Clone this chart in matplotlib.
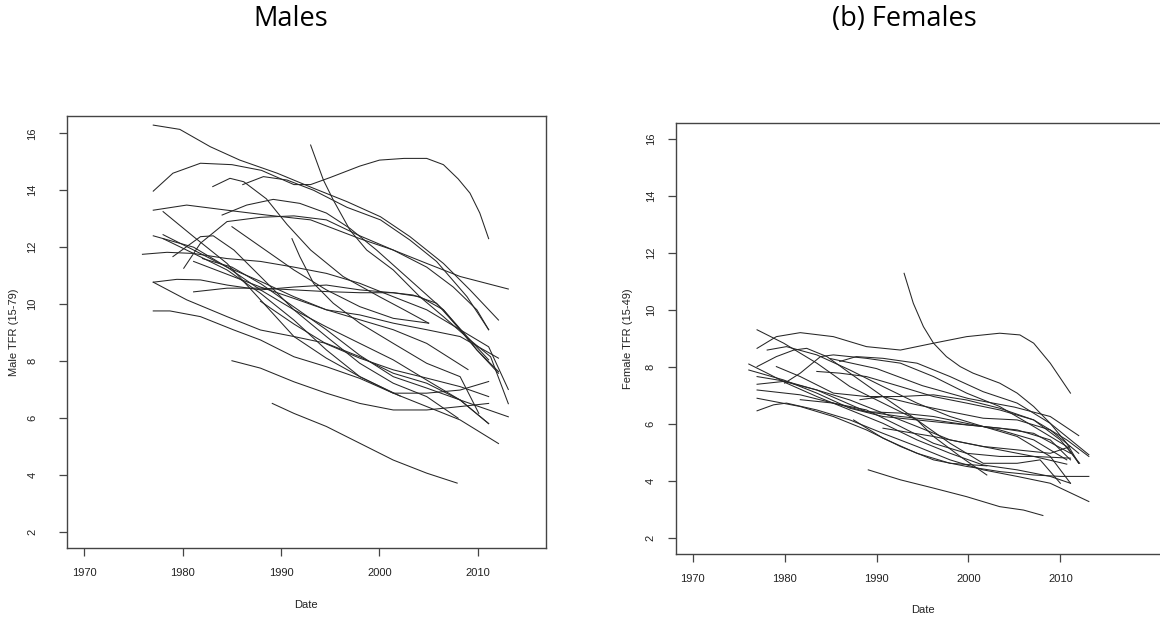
import matplotlib.pyplot as plt

# estimated TFR trajectories, one (years, values) pair per country
male_series = [
    ([1977, 1979.7, 1982.8, 1985.8, 1989.6, 1993.3, 1996.7, 2000.1, 2003.1, 2006.5, 2009.2, 2012.1],
     [16.29, 16.14, 15.53, 15.06, 14.6, 14.07, 13.6, 13.07, 12.37, 11.43, 10.5, 9.44]),
    ([1977, 1979, 1981.8, 1985, 1988, 1991.3, 1993, 1995, 1998, 2000, 2002.5, 2004.8, 2006.5, 2008, 2009.2, 2010.2, 2011.1],
     [13.97, 14.6, 14.95, 14.9, 14.7, 14.2, 14.2, 14.45, 14.85, 15.06, 15.12, 15.12, 14.9, 14.4, 13.9, 13.2, 12.3]),
    ([1983.05, 1984.8, 1986.2, 1988.5, 1990.6, 1993, 1996.3, 2000, 2002.5, 2005],
     [14.13, 14.42, 14.3, 13.7, 12.8, 11.9, 10.97, 10.26, 9.8, 9.33]),
    ([1986.1, 1988.2, 1990.6, 1993.3, 1996.7, 2000.1, 2003.1, 2005.8, 2008.9, 2011.1],
     [14.2, 14.48, 14.36, 14.0, 13.4, 12.96, 12.25, 11.5, 10.26, 9.1]),
    ([1993, 1994.3, 1995.3, 1997, 1998.7, 2001.4, 2004.1, 2006.5, 2009.2, 2011.3, 2013.1],
     [15.59, 14.36, 13.66, 12.6, 11.9, 11.2, 10.26, 9.56, 8.74, 8.15, 6.5]),
    ([1977, 1980.4, 1984.5, 1988.5, 1993, 1998, 2001.4, 2004.8, 2008.2, 2013.1],
     [13.3, 13.48, 13.3, 13.13, 12.96, 12.3, 11.9, 11.43, 10.97, 10.53]),
    ([1980.1, 1981.8, 1984.5, 1987.9, 1991.3, 1994.6, 1998, 2001.4, 2004.8, 2007.5, 2009.9, 2011.1],
     [11.26, 12.14, 12.9, 13.05, 13.1, 12.96, 12.4, 11.9, 11.3, 10.6, 9.8, 9.1]),
    ([1984, 1986.5, 1989.2, 1991.9, 1994.6, 1997, 1999.7, 2003.1, 2006.5, 2009.9, 2012.1],
     [13.13, 13.48, 13.68, 13.54, 13.2, 12.66, 11.9, 10.85, 9.8, 8.39, 7.63]),
    ([1978, 1981.1, 1984.5, 1987.9, 1991.3, 1994.6, 1998, 2002.1],
     [13.25, 12.37, 11.43, 10.15, 8.86, 8.1, 7.45, 6.77]),
    ([1975.9, 1978.4, 1981.1, 1984.5, 1987.9, 1991.3, 1994.6, 1998, 2001.4, 2004.8, 2008.2, 2011.1, 2013.1],
     [11.75, 11.82, 11.78, 11.6, 11.5, 11.3, 11.08, 10.73, 10.26, 9.8, 9.1, 8.5, 7.0]),
    ([1977, 1981.1, 1984.5, 1987.9, 1991.3, 1994.6, 1998, 2001.4, 2004.8, 2008.2, 2011.1],
     [12.4, 12.0, 11.3, 10.5, 9.8, 9.2, 8.62, 8.04, 7.33, 6.63, 5.8]),
    ([1979, 1981.8, 1983.1, 1985.2, 1987.9, 1991.3, 1994.6, 1998, 2001.4, 2004.8, 2008],
     [11.67, 12.37, 12.4, 11.9, 10.97, 9.8, 8.86, 7.92, 7.22, 6.75, 5.99]),
    ([1977, 1979.4, 1981.8, 1984.5, 1987.9, 1991.3, 1994.6, 1998, 2001.4, 2004.1, 2006.5, 2008.9, 2011.1],
     [10.77, 10.87, 10.85, 10.67, 10.5, 10.6, 10.67, 10.5, 10.4, 10.26, 9.8, 8.86, 8.04]),
    ([1977, 1980.4, 1984.5, 1987.9, 1991.3, 1994.6, 1998, 2001.4, 2004.8, 2008.2, 2011.1],
     [10.77, 10.15, 9.56, 9.09, 8.86, 8.62, 8.15, 7.57, 7.22, 6.63, 5.8]),
    ([1981.1, 1984.5, 1987.9, 1991.3, 1994.6, 1998, 2001.4, 2003.4, 2005.8, 2008.2, 2009.9, 2012.1],
     [10.43, 10.56, 10.56, 10.5, 10.44, 10.4, 10.4, 10.32, 10.03, 9.1, 8.39, 7.57]),
    ([1977, 1978.7, 1981.8, 1985.2, 1987.9, 1991.3, 1994.6, 1998, 2001.4, 2004.8, 2008.2, 2012.1],
     [9.76, 9.76, 9.56, 9.09, 8.74, 8.15, 7.8, 7.39, 6.87, 6.4, 5.93, 5.1]),
    ([1985, 1987.9, 1991.3, 1994.6, 1998, 2001.4, 2004.8, 2008.2, 2011.1],
     [8.01, 7.75, 7.27, 6.87, 6.51, 6.28, 6.28, 6.4, 6.51]),
    ([1989.1, 1991.3, 1994.6, 1998, 2001.4, 2004.8, 2007.9],
     [6.51, 6.16, 5.7, 5.11, 4.52, 4.06, 3.71]),
    ([1978, 1981.1, 1984.5, 1987.9, 1991.3, 1994.6, 1998, 2001.4, 2004.8, 2008.2, 2011.1],
     [12.3, 11.78, 11.2, 10.38, 9.44, 8.39, 7.45, 6.87, 6.87, 6.98, 7.28]),
    ([1985, 1987.9, 1991.3, 1994.6, 1998, 2001.4, 2005],
     [12.72, 12.02, 11.2, 10.5, 9.91, 9.5, 9.33]),
    ([1991.1, 1991.9, 1993.3, 1995.3, 1998, 2001.4, 2004.8, 2008.2, 2010.1],
     [12.3, 11.67, 10.73, 10.03, 9.33, 8.62, 7.92, 7.45, 6.16]),
    ([1978, 1981.1, 1984.5, 1987.9, 1991.3, 1994.6, 1998, 2001.4, 2004.8, 2008.2, 2012.1],
     [12.44, 11.9, 11.3, 10.8, 10.26, 9.8, 9.62, 9.33, 9.1, 8.86, 8.1]),
    ([1981.1, 1984.5, 1987.9, 1991.3, 1994.6, 1998, 2001.4, 2004.8, 2009],
     [11.5, 11.05, 10.6, 10.2, 9.8, 9.45, 9.1, 8.62, 7.7]),
    ([1987.9, 1991.3, 1994.6, 1998, 2001.4, 2004.8, 2008.2, 2011.1],
     [10.1, 9.3, 8.6, 8.1, 7.69, 7.4, 7.1, 6.75]),
    ([1982, 1985, 1988, 1991.3, 1994.6, 1998, 2001.4, 2004.8, 2008.2, 2013.1],
     [11.6, 11.3, 10.7, 9.9, 9.1, 8.2, 7.45, 7.05, 6.63, 6.04]),
]

female_series = [
    ([1993, 1994, 1995.1, 1996.2, 1997.6, 1999.1, 2000.5, 2003.4, 2005.3, 2007.1, 2008.9, 2010.7, 2012],
     [11.29, 10.24, 9.42, 8.84, 8.37, 8.02, 7.79, 7.44, 7.09, 6.62, 6.03, 5.33, 4.63]),
    ([1977, 1979.1, 1981.7, 1985.3, 1988.9, 1992.6, 1996.2, 1999.8, 2003.4, 2005.6, 2007.1, 2008.9, 2011.1],
     [8.66, 9.07, 9.21, 9.07, 8.72, 8.6, 8.84, 9.07, 9.19, 9.13, 8.84, 8.14, 7.09]),
    ([1977, 1979.9, 1983.5, 1987.1, 1990.7, 1994.4, 1996.2, 1999.1, 2002],
     [9.31, 8.84, 8.14, 7.32, 6.74, 6.15, 5.57, 4.87, 4.22]),
    ([1976.1, 1978.1, 1980.2, 1983.5, 1987.1, 1990.7, 1994.4, 1998, 2001.6, 2005.3, 2008.9, 2011.1],
     [8.11, 7.79, 7.44, 6.97, 6.5, 6.03, 5.45, 4.98, 4.57, 4.4, 4.17, 3.93]),
    ([1989.1, 1992.6, 1996.2, 1999.8, 2003.4, 2006, 2008.1],
     [4.4, 4.05, 3.76, 3.46, 3.11, 2.99, 2.8]),
    ([1977, 1978.8, 1980.2, 1983.5, 1987.1, 1990.7, 1994.4, 1998, 2001.6, 2005.3, 2008.9, 2013.1],
     [6.47, 6.68, 6.74, 6.5, 6.15, 5.68, 5.22, 4.75, 4.4, 4.17, 3.93, 3.29]),
    ([1977, 1981.7, 1985.3, 1988.9, 1992.6, 1996.2, 1999.8, 2003.4, 2007.1, 2010, 2013.1],
     [6.91, 6.62, 6.27, 5.8, 5.22, 4.75, 4.52, 4.34, 4.22, 4.17, 4.17]),
    ([1977, 1979.9, 1983.5, 1987.1, 1990.7, 1994.4, 1998, 2001.6, 2005.3, 2008.9, 2011.1],
     [7.4, 7.5, 7.2, 6.85, 6.39, 5.92, 5.45, 5.22, 5.1, 4.98, 5.22]),
    ([1977, 1981.7, 1985.3, 1988.9, 1992.6, 1996.2, 1999.8, 2003.4, 2007.1, 2011.1],
     [7.2, 7.03, 6.74, 6.5, 5.92, 5.33, 4.98, 4.87, 4.87, 4.81]),
    ([1976.1, 1979.9, 1983.5, 1987.1, 1990.7, 1994.4, 1998, 2001.6, 2005.3, 2008.9, 2011.1],
     [7.9, 7.55, 7.09, 6.56, 6.27, 6.15, 6.03, 5.92, 5.8, 5.45, 4.75]),
    ([1977, 1979.1, 1981, 1982.4, 1984.6, 1987.1, 1990.7, 1994.4, 1998, 2001.6, 2005.3, 2007.8, 2010],
     [8.02, 8.37, 8.6, 8.66, 8.37, 7.79, 6.97, 6.15, 5.33, 4.63, 4.63, 4.75, 3.93]),
    ([1978.1, 1980.2, 1983.5, 1987.1, 1990.7, 1994.4, 1998, 2001.6, 2005.3, 2008.9, 2011.1],
     [8.6, 8.72, 8.43, 7.9, 7.32, 6.74, 6.27, 5.92, 5.57, 4.87, 3.93]),
    ([1980, 1981.7, 1983.9, 1985.3, 1988.9, 1992.6, 1996.2, 1999.8, 2003.4, 2007.1, 2010.7, 2012],
     [7.44, 7.79, 8.37, 8.43, 8.31, 8.14, 7.67, 7.09, 6.62, 5.92, 5.22, 4.63]),
    ([1986, 1987.8, 1990.7, 1994.4, 1998, 2001.6, 2005.3, 2008.9, 2013.1],
     [8.2, 8.37, 8.31, 8.14, 7.67, 7.14, 6.74, 6.03, 4.93]),
    ([1983.5, 1986, 1988.9, 1992.6, 1996.2, 1999.8, 2003.4, 2007.1, 2010, 2012.1],
     [7.85, 7.79, 7.67, 7.32, 6.97, 6.74, 6.5, 6.15, 5.45, 4.63]),
    ([1979.1, 1981.7, 1985.3, 1988.9, 1992.6, 1996.2, 1999.8, 2003.4, 2007.1, 2010.7, 2013.1],
     [8.02, 7.67, 7.09, 6.97, 6.97, 7.03, 6.85, 6.56, 6.15, 5.45, 4.87]),
    ([1981.7, 1985.3, 1988.9, 1992.6, 1996.2, 1999.8, 2003.4, 2007.1, 2011.1],
     [6.86, 6.74, 6.44, 6.27, 6.15, 5.98, 5.86, 5.68, 4.98]),
    ([1988.2, 1990.7, 1994.4, 1998, 2001.6, 2005.3, 2008.9, 2012],
     [6.86, 6.97, 6.68, 6.44, 6.21, 6.15, 5.8, 4.98]),
    ([1977, 1980.2, 1983.5, 1988.9, 1992.6, 1996.2, 1999.8, 2003.4, 2007.1, 2010.7],
     [7.67, 7.5, 7.2, 6.44, 6.39, 6.27, 6.03, 5.8, 5.45, 4.75]),
    ([1987.5, 1990.7, 1994.4, 1998, 2002],
     [6.15, 5.51, 4.98, 4.63, 4.54]),
    ([1990.7, 1996.2, 1999.8, 2003.4, 2007.1, 2010.7],
     [5.86, 5.57, 5.33, 5.1, 4.87, 4.6]),
    ([1985, 1990, 1995, 2000, 2005, 2008.9, 2012],
     [8.3, 7.95, 7.35, 6.9, 6.6, 6.27, 5.6]),
]

male_title = "Males"
female_title = "(b) Females"
x_ticks = [1970, 1980, 1990, 2000, 2010]
y_ticks = [2, 4, 6, 8, 10, 12, 14, 16]

W, H = 1160, 619
fig = plt.figure(figsize=(W / 100, H / 100), dpi=100)

tick_font = dict(family="Liberation Sans", size=8)
line_kw = dict(color="#262626", lw=0.75)


def style_axis(ax, xlim, ylim, ylabel, label_x, label_y, ypad):
    ax.set_xlim(*xlim)
    ax.set_ylim(*ylim)
    ax.set_xticks(x_ticks)
    ax.set_yticks(y_ticks)
    for s in ax.spines.values():
        s.set_color("#444444")
        s.set_linewidth(1.0)
    ax.tick_params(axis="both", direction="out", length=6, width=0.9,
                   color="#444444", labelsize=8, labelcolor="#222222")
    ax.tick_params(axis="x", pad=8.5)
    ax.tick_params(axis="y", pad=ypad)
    for lab in ax.get_xticklabels() + ax.get_yticklabels():
        lab.set_family("Liberation Sans")
    for lab in ax.get_yticklabels():
        lab.set_rotation(90)
        lab.set_va("center")
    ax.set_xlabel("Date", fontdict=tick_font, color="#222222")
    ax.set_ylabel(ylabel, fontdict=tick_font, color="#222222")
    ax.xaxis.set_label_coords(0.5, label_y)
    ax.yaxis.set_label_coords(label_x, 0.5)
    ax.xaxis.label.set_va("center")
    ax.yaxis.label.set_va("center")


ax_m = fig.add_axes([66.7 / W, (H - 547.7) / H, 479 / W, 431.7 / H])
for yrs, vals in male_series:
    ax_m.plot(yrs, vals, **line_kw)
style_axis(ax_m, (1968.2, 2016.9), (1.44, 16.61), "Male TFR (15-79)",
           -0.110, -0.1327, 15)

# the right panel runs past the figure edge, so its right spine is cut off
ax_f = fig.add_axes([676 / W, (H - 554) / H, 494 / W, 431.3 / H])
for yrs, vals in female_series:
    ax_f.plot(yrs, vals, **line_kw)
style_axis(ax_f, (1968.18, 2021.93), (1.45, 16.57), "Female TFR (15-49)",
           -0.097, -0.13, 8.5)

fig.text(291 / W, 1 - 19 / H, male_title, ha="center", va="center",
         family="Open Sans", fontsize=19.5)
fig.text(904 / W, 1 - 19 / H, female_title, ha="center", va="center",
         family="Open Sans", fontsize=19.5)

fig.savefig("out.png", dpi=100)
